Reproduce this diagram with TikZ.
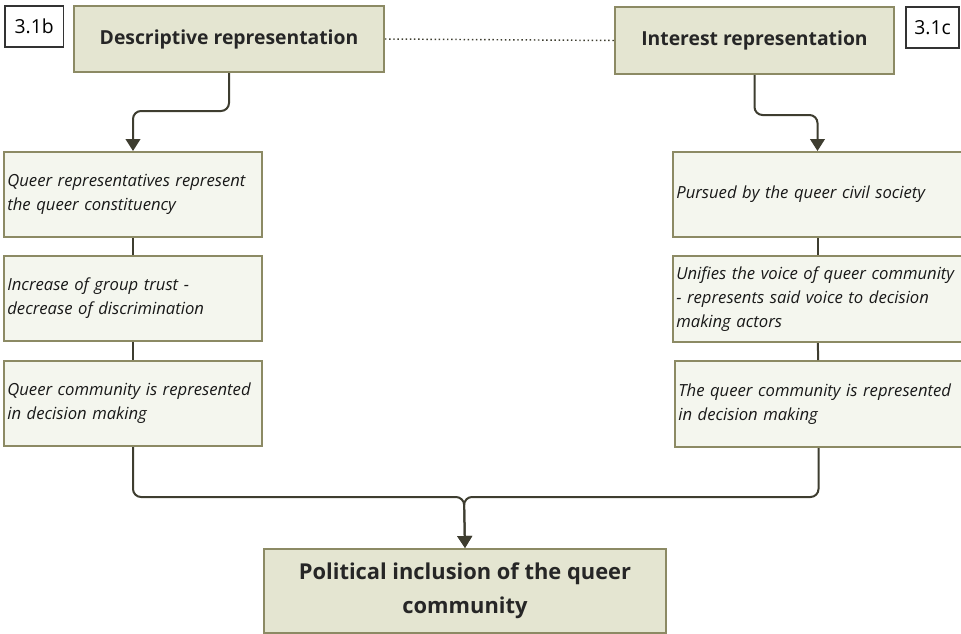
\documentclass[tikz,border=0pt]{standalone}
\usepackage{fontspec}
\setmainfont{Open Sans}
\usetikzlibrary{arrows.meta}
\definecolor{boxline}{HTML}{8C8A64}
\definecolor{headfill}{HTML}{E4E5D1}
\definecolor{stepfill}{HTML}{F4F6EE}
\definecolor{wire}{HTML}{3E3D30}
\begin{document}
\begin{tikzpicture}[x=0.75pt,y=0.75pt,yscale=-1,xscale=1,
  headbox/.style={draw=boxline,fill=headfill,line width=1.5pt,anchor=north west,inner sep=0pt,
    font=\fontsize{14.5}{17}\selectfont\bfseries,text=black!85},
  tagbox/.style={draw=black!80,fill=white,line width=1.3pt,anchor=north west,inner sep=0pt,
    minimum height=30.75pt,font=\fontsize{14.5}{17}\selectfont},
  stepbox/.style={draw=boxline,fill=stepfill,line width=1.5pt,anchor=north west,inner xsep=2.5pt,
    minimum height=63.75pt,align=left,font=\fontsize{12.5}{18}\selectfont\itshape,text=black!90},
  link/.style={draw=wire,line width=1.5pt},
  arr/.style={draw=wire,line width=1.5pt,rounded corners=6pt,-{Triangle[width=11pt,length=9pt]}}]
\useasboundingbox (0,0) rectangle (961,633);

%Shape: tags
\node[tagbox,minimum width=44pt] (tagb) at (4,5) {3.1b};
\node[tagbox,minimum width=40pt] (tagc) at (905,6) {3.1c};

%Shape: heading boxes
\node[headbox,minimum width=232.5pt,minimum height=49.5pt] (desc) at (73,5) {Descriptive representation};
\node[headbox,minimum width=209.25pt,minimum height=50.25pt] (intr) at (614,6) {Interest representation};

%Shape: left column
\node[stepbox,text width=188.5pt] (lq1) at (3,151) {Queer representatives represent\\the queer constituency};
\node[stepbox,text width=188.5pt] (lq2) at (3,255) {Increase of group trust -\\decrease of discrimination};
\node[stepbox,text width=188.5pt] (lq3) at (3,360) {Queer community is represented\\in decision making};

%Shape: right column
\node[stepbox,text width=211.75pt] (rq1) at (672,151) {Pursued by the queer civil society};
\node[stepbox,text width=211.75pt,minimum height=64.5pt] (rq2) at (672,255) {Unifies the voice of queer community\\- represents said voice to decision\\making actors};
\node[stepbox,text width=210.25pt,minimum height=64.5pt] (rq3) at (674,360) {The queer community is represented\\in decision making};

%Shape: outcome
\node[headbox,minimum width=301.5pt,minimum height=63pt,align=center,
  font=\fontsize{16.4}{25.5}\selectfont\bfseries] (pol) at (263,548) {Political inclusion of the queer\\community};

%Straight Lines
\draw[wire,line width=1.1pt,dotted] (desc.east) -- (intr.west);
\draw[link] (lq1) -- (lq2);
\draw[link] (lq2) -- (lq3);
\draw[link] (rq1) -- (rq2);
\draw[link] (rq2) -- (rq3);

%Curve Lines
\draw[arr] (desc.south) -- ++(0,38) -| (lq1.north);
\draw[arr] (intr.south) -- ++(0,40) -| (rq1.north);
\coordinate (join) at (464,497);
\draw[arr] (lq3.south) |- (join) -- (pol.north);
\draw[arr] (rq3.south) |- (join) -- (pol.north);

\end{tikzpicture}
\end{document}
